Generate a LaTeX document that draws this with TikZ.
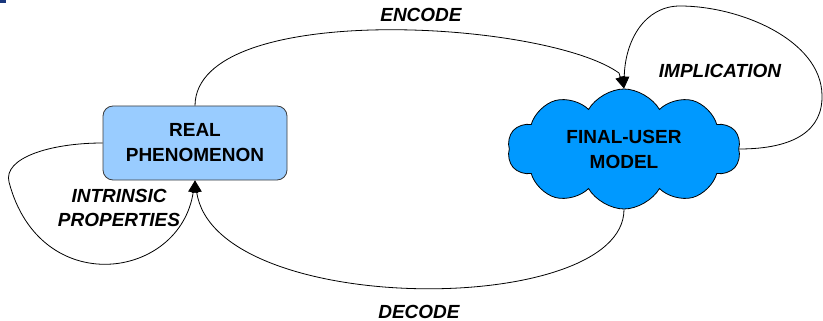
\documentclass[tikz,border=0pt]{standalone}
\usepackage{fontspec}
\setmainfont{Liberation Sans}
\usetikzlibrary{shapes.symbols,arrows.meta}
\definecolor{boxblue}{RGB}{153,204,255}
\definecolor{cloudblue}{RGB}{0,153,255}
\definecolor{edgegray}{RGB}{60,60,60}
\definecolor{markblue}{RGB}{25,55,125}
\tikzset{
  stagebox/.style={draw=edgegray, line width=0.8pt, fill=boxblue, rounded corners=10pt,
    minimum width=184pt, minimum height=74pt, inner sep=0pt, align=center,
    font=\fontsize{19}{25}\selectfont\bfseries},
  usercloud/.style={cloud, cloud puffs=10, cloud puff arc=120, cloud ignores aspect,
    draw=black, line width=0.8pt,
    fill=cloudblue, minimum width=233pt, minimum height=120pt, inner sep=0pt, align=center,
    font=\fontsize{19}{25}\selectfont\bfseries},
  flow/.style={draw=black, line width=0.8pt, -{Triangle[length=12pt,width=10pt]}},
  flowlabel/.style={align=center, inner sep=0pt, font=\fontsize{19}{24}\selectfont\bfseries\itshape},
}
\begin{document}
\begin{tikzpicture}[x=1pt,y=-1pt]
\useasboundingbox (0,0) rectangle (823,321);
\fill[markblue] (0,0) rectangle (6,3);

\node[stagebox] (real) at (195,143) {REAL\\PHENOMENON};
\node[usercloud] (user) at (624,149) {FINAL-USER\\MODEL};

% encode: box top over to the cloud top
\draw[flow] (real.north) .. controls (196,0) and (545,20) .. (619,73) -- (user.north);
% implication: loop from the cloud's right side back onto its top
\draw[flow] (user.east) .. controls (795,149) and (823,130) .. (822,95)
  .. controls (821,40) and (740,6) .. (680,6)
  .. controls (645,6) and (625,40) .. (user.north);
% decode: cloud bottom back under to the box bottom
\draw[flow] (user.south) .. controls (624,318) and (215,318) .. (real.south);
% intrinsic properties: loop from the box's left side to its bottom
\draw[flow] (real.west) .. controls (50,143) and (3,158) .. (9,182)
  .. controls (40,300) and (180,280) .. (real.south);

\node[flowlabel] (encL) at (421,15) {ENCODE};
\node[flowlabel] (impL) at (720,71) {IMPLICATION};
\node[flowlabel] (intL) at (119,208) {INTRINSIC\\PROPERTIES};
\node[flowlabel] (decL) at (419,312) {DECODE};
\end{tikzpicture}
\end{document}
